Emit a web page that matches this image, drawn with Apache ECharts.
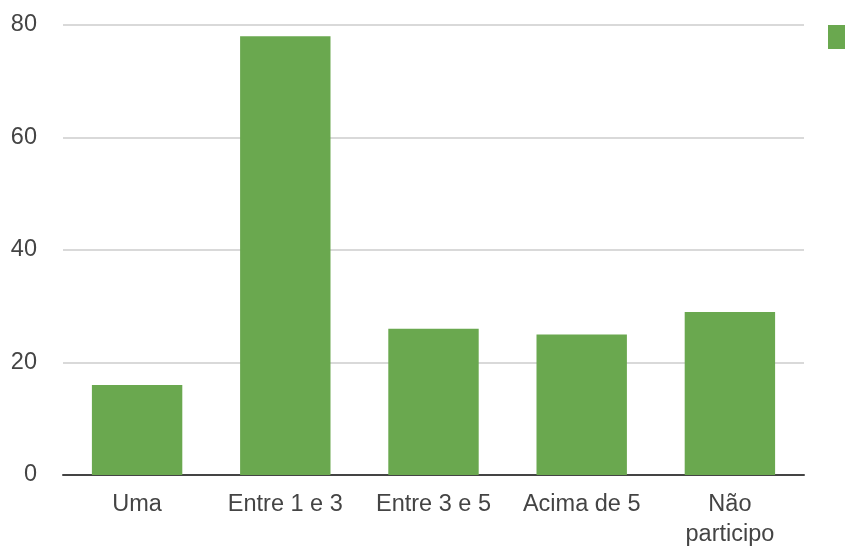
<!DOCTYPE html>
<html>
<head>
<meta charset="utf-8">
<script src="https://cdn.jsdelivr.net/npm/echarts@6/dist/echarts.min.js"></script>
<style>
  html, body { margin: 0; padding: 0; background: #ffffff; }
  #chart { width: 845px; height: 550px; }
</style>
</head>
<body>
<div id="chart"></div>
<script>
// Categories and values
const categories = ['Uma', 'Entre 1 e 3', 'Entre 3 e 5', 'Acima de 5', 'Não\nparticipo'];
const values = [16, 78, 26, 25, 29];
const yTicks = [0, 20, 40, 60, 80];
const seriesName = 'Respostas';

const chart = echarts.init(document.getElementById('chart'));
chart.setOption({
  animation: false,
  textStyle: { fontFamily: 'Liberation Sans, Arial, sans-serif' },
  grid: { left: 63, right: 41, top: 25, bottom: 69, containLabel: false },
  legend: {
    show: true,
    left: 828,
    top: 25,
    padding: 0,
    itemWidth: 20,
    itemHeight: 24,
    itemGap: 0,
    icon: 'rect',
    formatter: function () { return ''; },
    data: [seriesName]
  },
  xAxis: {
    type: 'category',
    data: categories,
    axisTick: { show: false },
    axisLine: { lineStyle: { color: '#444444', width: 2 } },
    axisLabel: {
      color: '#444444',
      fontSize: 23.5,
      margin: 15,
      lineHeight: 30,
      interval: 0
    }
  },
  yAxis: {
    type: 'value',
    min: yTicks[0],
    max: yTicks[yTicks.length - 1],
    interval: 20,
    axisLine: { show: false },
    axisTick: { show: false },
    axisLabel: { color: '#444444', fontSize: 23.5, margin: 26 },
    splitLine: { lineStyle: { color: '#cccccc', width: 1.5 } }
  },
  series: [{
    name: seriesName,
    type: 'bar',
    data: values,
    barCategoryGap: '39%',
    itemStyle: { color: '#6aa84f' }
  }]
});
</script>
</body>
</html>
